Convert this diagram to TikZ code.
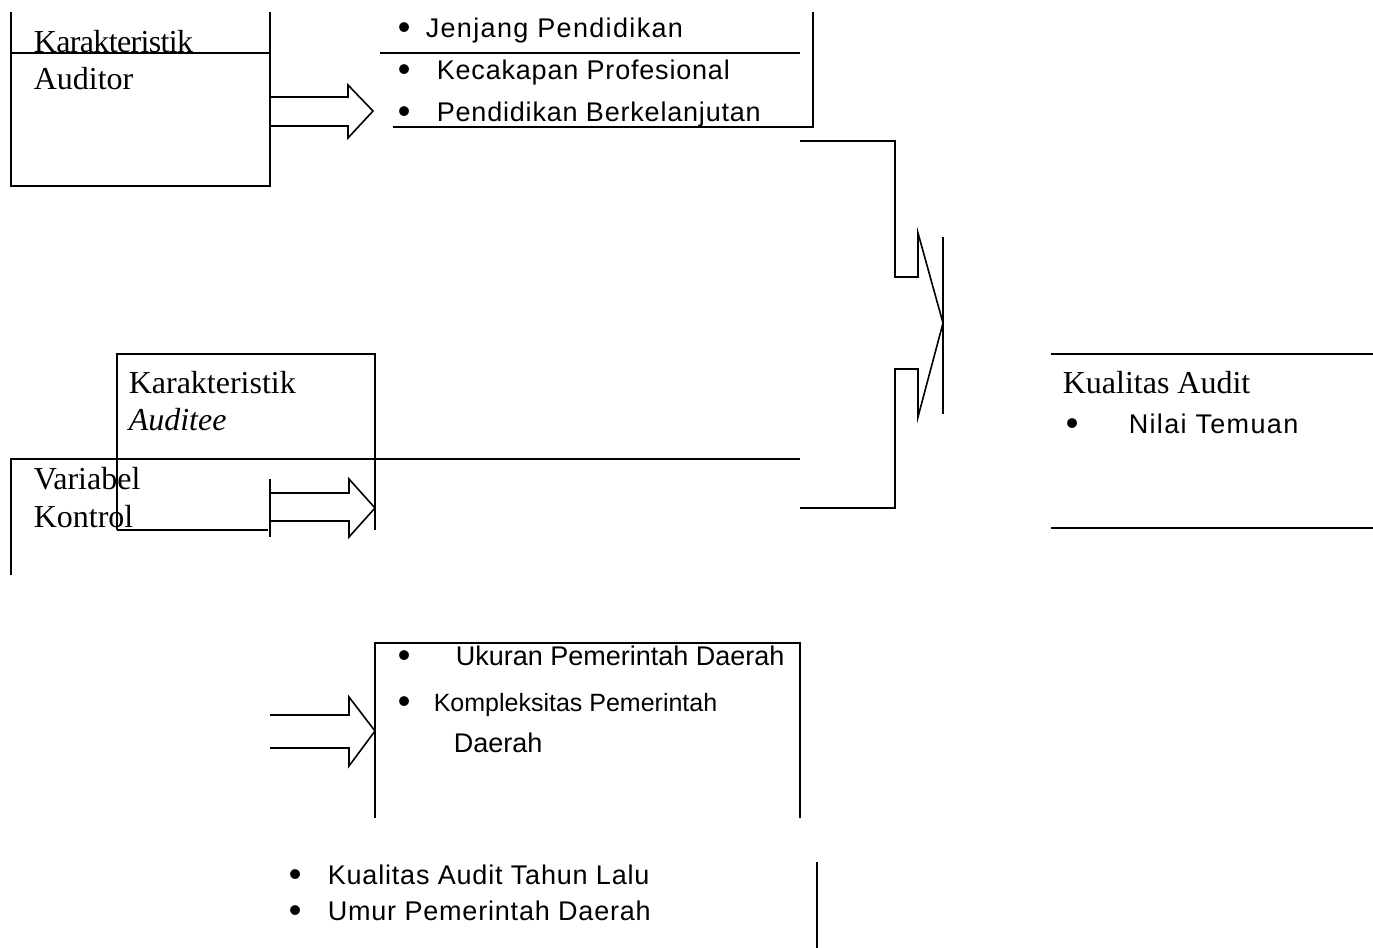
\documentclass[tikz,border=0pt]{standalone}
\usepackage{fontspec}
\setmainfont{Liberation Serif}
\newfontfamily\arialfont{Liberation Sans}
\begin{document}
\begin{tikzpicture}[x=0.5pt,y=-0.5pt,line width=0.8pt,line join=miter,
  serif/.style={anchor=base west,inner sep=0pt,font=\fontsize{16}{19}\selectfont},
  sans/.style={anchor=base west,inner sep=0pt,font=\arialfont\fontsize{13.5}{16}\selectfont},
  wide/.style={sans,font=\arialfont\fontsize{13.5}{16}\selectfont\addfontfeatures{LetterSpace=5}},
  mid/.style={sans,font=\arialfont\fontsize{13.5}{16}\selectfont\addfontfeatures{LetterSpace=3}},
  bul/.style={anchor=base west,inner sep=0pt,font=\arialfont\fontsize{18}{20}\selectfont}]
\useasboundingbox (0,0) rectangle (1373,948);

% box Karakteristik Auditor
\draw (11,12) -- (11,186) -- (270,186) -- (270,12);
\draw (11,53) -- (270,53);
\node[serif,font=\fontsize{16}{19}\selectfont\addfontfeatures{LetterSpace=-2}] (ka1) at (33,52) {Karakteristik};
\node[serif] (ka2) at (33,89) {Auditor};

% arrow 1
\draw (270,97) -- (348,97) -- (348,85) -- (373,111) -- (348,138) -- (348,126) -- (270,126);

% top list
\draw (380,53) -- (800,53);
\draw (393,127) -- (813,127) -- (813,12);
\node[bul] (b1) at (397,39) {•};
\node[wide] (t1) at (425,37) {Jenjang Pendidikan};
\node[bul] (b2) at (397,81) {•};
\node[mid] (t2) at (436,79) {Kecakapan Profesional};
\node[bul] (b3) at (397,123) {•};
\node[mid] (t3) at (436,121) {Pendidikan Berkelanjutan};

% bracket arrow
\draw (800,141) -- (895,141) -- (895,277) -- (918,277) -- (918,233) -- (943,323)
      -- (918,417) -- (918,369) -- (895,369) -- (895,508) -- (800,508);
\draw (943,237) -- (943,414);

% box Karakteristik Auditee
\draw (117,530) -- (117,354) -- (375,354) -- (375,530);
\draw (117,530) -- (268,530);
\node[serif] (kb1) at (128,393) {Karakteristik};
\node[serif] (kb2) at (128,430) {\textit{Auditee}};

% box Variabel Kontrol
\draw (11,575) -- (11,459) -- (800,459);
\node[serif] (vk1) at (33,489) {Variabel};
\node[serif] (vk2) at (33,527) {Kontrol};

% arrow 2
\draw (270,479) -- (270,537);
\draw (270,493) -- (349,493) -- (349,479) -- (375,508) -- (349,537) -- (349,521) -- (270,521);

% arrow 3
\draw (270,715) -- (349,715) -- (349,697) -- (375,731) -- (349,766) -- (349,748) -- (270,748);

% bottom box
\draw (375,818) -- (375,643) -- (800,643) -- (800,818);
\node[bul] (b4) at (397,667) {•};
\node[sans] (t4) at (455,665) {Ukuran Pemerintah Daerah};
\node[bul] (b5) at (397,713) {•};
\node[sans,font=\arialfont\fontsize{12.5}{15}\selectfont] (t5) at (433,711) {Kompleksitas Pemerintah};
\node[sans] (t6) at (453,752) {Daerah};

% bottom list
\draw (817,862) -- (817,948);
\node[bul] (b6) at (288,886) {•};
\node[mid] (t7) at (327,884) {Kualitas Audit Tahun Lalu};
\node[bul] (b7) at (288,922) {•};
\node[mid] (t8) at (327,920) {Umur Pemerintah Daerah};

% Kualitas Audit
\draw (1051,354) -- (1373,354);
\draw (1051,528) -- (1373,528);
\node[serif] (qa) at (1062,393) {Kualitas Audit};
\node[bul] (b8) at (1065,435) {•};
\node[wide] (t9) at (1128,433) {Nilai Temuan};
\end{tikzpicture}
\end{document}
